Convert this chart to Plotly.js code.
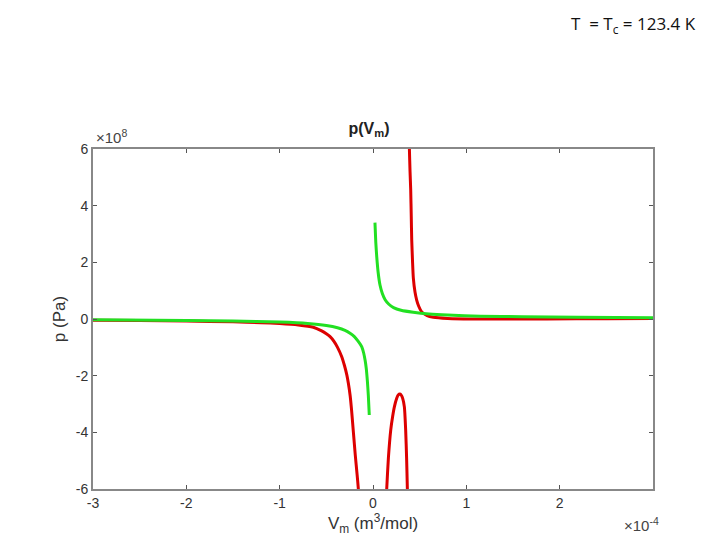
<!DOCTYPE html>
<html>
<head>
<meta charset="utf-8">
<script src="https://cdn.plot.ly/plotly-3.0.1.min.js"></script>
<style>html,body{margin:0;padding:0;background:#fff;}#chart{width:720px;height:540px;}</style>
</head>
<body>
<div id="chart"></div>
<script>
// Values in display units: V_m in 1e-4 m^3/mol, p in 1e8 Pa
const redLeftV  = [-3, -2.5, -2, -1.5, -1.2, -1.0, -0.8, -0.64, -0.55, -0.5, -0.46, -0.42, -0.38, -0.335, -0.305, -0.28, -0.264, -0.245, -0.23, -0.21, -0.19, -0.17, -0.157, -0.15];
const redLeftP  = [-0.04, -0.05, -0.07, -0.10, -0.13, -0.16, -0.21, -0.29, -0.42, -0.52, -0.62, -0.78, -1.0, -1.33, -1.65, -1.98, -2.27, -2.7, -3.2, -4.0, -4.8, -5.5, -6.0, -6.5];
const redHumpV  = [0.14, 0.147, 0.165, 0.19, 0.21, 0.229, 0.254, 0.27, 0.289, 0.305, 0.318, 0.336, 0.35, 0.36, 0.368, 0.372];
const redHumpP  = [-6.8, -6.0, -4.9, -3.92, -3.45, -3.1, -2.8, -2.68, -2.65, -2.7, -2.8, -3.1, -3.92, -4.9, -6.0, -6.8];
const redRightV = [0.386, 0.39, 0.397, 0.404, 0.41, 0.415, 0.424, 0.432, 0.45, 0.468, 0.49, 0.52, 0.58, 0.646, 0.8, 1.15, 1.86, 2.5, 3.0];
const redRightP = [6.8, 6.0, 5.2, 4.55, 3.6, 2.79, 2.0, 1.45, 0.95, 0.67, 0.45, 0.26, 0.12, 0.06, 0.02, 0.0, 0.0, 0.01, 0.02];
const greenLeftV  = [-3, -2, -1.5, -1, -0.7, -0.5, -0.38, -0.3, -0.246, -0.2, -0.16, -0.12, -0.1, -0.085, -0.072, -0.06, -0.05, -0.04];
const greenLeftP  = [-0.03, -0.05, -0.07, -0.11, -0.16, -0.23, -0.31, -0.40, -0.5, -0.62, -0.78, -0.98, -1.2, -1.45, -1.75, -2.2, -2.7, -3.39];
const greenRightV = [0.021, 0.03, 0.04, 0.055, 0.075, 0.1, 0.13, 0.17, 0.22, 0.3, 0.43, 0.6, 0.8, 1.15, 1.6, 2.2, 3];
const greenRightP = [3.4, 2.7, 2.2, 1.65, 1.2, 0.9, 0.68, 0.52, 0.40, 0.31, 0.24, 0.18, 0.14, 0.1, 0.08, 0.06, 0.04];
const xTicks = [-3, -2, -1, 0, 1, 2];
const yTicks = [-6, -4, -2, 0, 2, 4, 6];

const red = '#dd0000', green = '#22e022';
const FONT = 'Liberation Sans, Arial, sans-serif';
function tr(x, y, c) {
  return {x: x, y: y, type: 'scatter', mode: 'lines', line: {color: c, width: 3, shape: 'spline', smoothing: 0.5}, hoverinfo: 'skip', showlegend: false};
}
const data = [
  tr(redLeftV, redLeftP, red), tr(redHumpV, redHumpP, red), tr(redRightV, redRightP, red),
  tr(greenLeftV, greenLeftP, green), tr(greenRightV, greenRightP, green)
];
const axCommon = {
  showline: true, linecolor: '#888', linewidth: 2, mirror: 'ticks', ticks: 'inside', ticklen: 4,
  tickcolor: '#555', tickwidth: 1, showgrid: false, zeroline: false,
  tickfont: {family: FONT, size: 14, color: '#333'}
};
const layout = {
  width: 720, height: 540, paper_bgcolor: '#fff', plot_bgcolor: '#fff',
  margin: {l: 93, r: 67, t: 149, b: 51},
  font: {family: FONT},
  title: {text: '<b>p(V<sub>m</sub>)</b>', x: 0.5125, xanchor: 'center', y: 0.763, yanchor: 'middle', font: {family: FONT, size: 16, color: '#222'}},
  xaxis: Object.assign({}, axCommon, {range: [-3, 3], tickvals: xTicks, ticktext: xTicks.map(String),
    title: {text: 'V<sub>m</sub> (m<sup>3</sup>/mol)', standoff: 4, font: {family: FONT, size: 17, color: '#333'}}}),
  yaxis: Object.assign({}, axCommon, {range: [-6, 6], tickvals: yTicks, ticktext: yTicks.map(String),
    title: {text: 'p (Pa)', standoff: 6, font: {family: FONT, size: 17, color: '#333'}}}),
  annotations: [
    {text: '\u00d710<sup>8</sup>', xref: 'paper', yref: 'paper', x: 0.002, y: 1.003, xanchor: 'left', yanchor: 'bottom', showarrow: false, font: {family: FONT, size: 15, color: '#444'}},
    {text: '\u00d710<sup>-4</sup>', xref: 'paper', yref: 'paper', x: 1.015, y: -0.07, xanchor: 'right', yanchor: 'top', showarrow: false, font: {family: FONT, size: 15, color: '#444'}},
    {text: 'T  = T<sub>c</sub> = 123.4 K', xref: 'paper', yref: 'paper', x: 1.08, y: 1.365, xanchor: 'right', yanchor: 'middle', showarrow: false, font: {family: 'Open Sans, Liberation Sans', size: 17, color: '#111'}}
  ]
};
Plotly.newPlot('chart', data, layout, {staticPlot: true, displayModeBar: false});
</script>
</body>
</html>
